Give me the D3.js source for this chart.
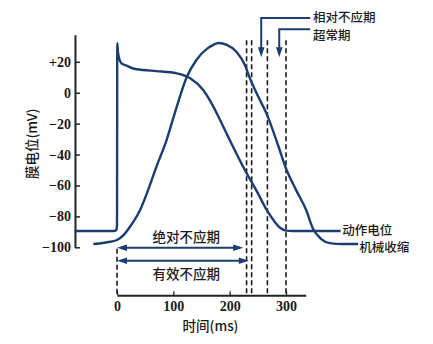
<!DOCTYPE html>
<html>
<head>
<meta charset="utf-8">
<script src="https://cdn.jsdelivr.net/npm/d3@7"></script>
<style>
  html, body { margin: 0; padding: 0; background: #fff; }
  svg { display: block; }
  .cn { font-family: "Noto Sans CJK SC", "Noto Sans", sans-serif; font-weight: 500; fill: #1a1a1a; }
  .num { font-family: "Liberation Serif", "DejaVu Serif", serif; font-weight: bold; fill: #1a1a1a; font-size: 14px; }
</style>
</head>
<body>
<svg id="chart" width="433" height="344"></svg>
<script>
// Ventricular action potential (mV) against time (ms)
const apTime    = [-75, -10, -3, -0.8, 0, 0.5, 1.5, 4, 8, 17, 30, 47, 70, 106, 130, 153, 171, 183, 200, 227, 250, 266, 280, 290, 300, 312, 397];
const apVoltage = [-89.5, -89.5, -89.3, -88.3, -85, 32, 27, 22, 19, 17.5, 15.5, 14.7, 14, 12.5, 9.3, 1.7, -9, -17.7, -30.5, -50, -65, -76, -83.5, -87.5, -89.2, -89.5, -89.5];

// Mechanical contraction curve, drawn against the same axis
const contractionTime  = [-42, -25, -12, 0, 12, 23, 41, 53, 70, 88, 106, 124, 141, 160, 171, 180, 195, 212, 227, 236, 250, 266, 285, 300, 318, 336, 348, 362, 378, 400, 428];
const contractionValue = [-97.9, -97.2, -96.4, -95.3, -92, -86.7, -75.9, -65.1, -47.9, -30.6, -9.1, 10.3, 21.2, 28.5, 31, 32.2, 31, 26.5, 17.9, 9.3, -2, -14, -33, -49, -63, -76, -88, -94.5, -97.3, -97.9, -97.9];

// Refractory period boundaries (ms)
const refractoryMarks = [230, 239, 267, 300];
const absoluteEnd = 224;
const effectiveEnd = 234;
const relativeArrowAt = 256;
const supernormalArrowAt = 288;

// Axis ticks
const yTickValues = [-100, -80, -60, -40, -20, 0, 20];
const yTickLabels = ["\u2212100", "\u221280", "\u221260", "\u221240", "\u221220", "0", "+20"];
const xTickValues = [0, 100, 200, 300];
const xTickLabels = ["0", "100", "200", "300"];

const svg = d3.select("#chart");
const navy = "#1b3d70";

const x = d3.scaleLinear().domain([0, 300]).range([117, 286]);
const y = d3.scaleLinear().domain([-100, 20]).range([247.3, 61.8]);

// Y axis (ticks point inward)
const yAxisScale = y.copy().domain([-100, 37.5]).range([y(-100), y(37.5)]);
const gy = svg.append("g").attr("transform", `translate(${x(-74.6)},0)`)
  .call(d3.axisLeft(yAxisScale)
    .tickValues(yTickValues)
    .tickFormat((d, i) => yTickLabels[i])
    .tickSizeInner(-5).tickSizeOuter(0).tickPadding(4));
gy.select(".domain").attr("stroke", "#222").attr("stroke-width", 2);
gy.selectAll(".tick line").attr("stroke", "#222").attr("stroke-width", 1.5);
gy.selectAll(".tick text").attr("class", "num").attr("font-size", null).attr("font-family", null);

// X axis
const xAxisScale = x.copy().domain([0, 335]).range([x(0), x(335)]);
const gx = svg.append("g").attr("transform", `translate(0,${y(-131)})`)
  .call(d3.axisBottom(xAxisScale)
    .tickValues(xTickValues)
    .tickFormat((d, i) => xTickLabels[i])
    .tickSizeInner(-4).tickSizeOuter(0).tickPadding(6));
gx.select(".domain").attr("stroke", "#222").attr("stroke-width", 2);
gx.selectAll(".tick line").attr("stroke", "#222").attr("stroke-width", 1.3);
gx.selectAll(".tick text").attr("class", "num").attr("font-size", null).attr("font-family", null);

// Dashed boundaries of the refractory periods
svg.append("g").selectAll("line").data(refractoryMarks).join("line")
  .attr("x1", d => x(d)).attr("x2", d => x(d))
  .attr("y1", y(34)).attr("y2", y(-131))
  .attr("stroke", "#1a1a1a").attr("stroke-width", 1.6).attr("stroke-dasharray", "5,3");
svg.append("line")
  .attr("x1", x(0)).attr("x2", x(0))
  .attr("y1", y(-101)).attr("y2", y(-131))
  .attr("stroke", "#1a1a1a").attr("stroke-width", 1.6).attr("stroke-dasharray", "5,3");

// Curves
const line = d3.line().x(d => x(d[0])).y(d => y(d[1])).curve(d3.curveMonotoneX);
svg.append("path")
  .attr("d", line(contractionTime.map((t, i) => [t, contractionValue[i]])))
  .attr("fill", "none").attr("stroke", navy).attr("stroke-width", 2.4);
svg.append("path")
  .attr("d", line(apTime.map((t, i) => [t, apVoltage[i]])))
  .attr("fill", "none").attr("stroke", navy).attr("stroke-width", 2.4);

// Double-headed arrows for absolute / effective refractory periods
function hArrow(t0, t1, v) {
  const x0 = x(t0), x1 = x(t1), yy = y(v), L = 10, W = 3.2;
  svg.append("line").attr("x1", x0 + 4).attr("x2", x1 - 4).attr("y1", yy).attr("y2", yy)
    .attr("stroke", navy).attr("stroke-width", 2);
  svg.append("path").attr("fill", navy)
    .attr("d", `M${x0},${yy}L${x0 + L},${yy - W}L${x0 + L},${yy + W}Z`);
  svg.append("path").attr("fill", navy)
    .attr("d", `M${x1},${yy}L${x1 - L},${yy - W}L${x1 - L},${yy + W}Z`);
}
hArrow(0, absoluteEnd, -100.3);
hArrow(0, effectiveEnd, -108.7);

svg.append("text").attr("class", "cn").attr("font-size", 13.5)
  .attr("x", x(123)).attr("y", y(-93)).attr("text-anchor", "middle").attr("dominant-baseline", "central")
  .text("绝对不应期");
svg.append("text").attr("class", "cn").attr("font-size", 13.5)
  .attr("x", x(123)).attr("y", y(-116.5)).attr("text-anchor", "middle").attr("dominant-baseline", "central")
  .text("有效不应期");

// Pointer arrows for relative refractory and supernormal periods
function elbowArrow(tDown, vLine, tEnd) {
  const xd = x(tDown), yl = y(vLine), xe = x(tEnd), yTip = y(23), L = 10, W = 3.3;
  svg.append("path").attr("fill", "none").attr("stroke", navy).attr("stroke-width", 2)
    .attr("d", `M${xe},${yl}H${xd}V${yTip - L + 1}`);
  svg.append("path").attr("fill", navy)
    .attr("d", `M${xd},${yTip}L${xd - W},${yTip - L}L${xd + W},${yTip - L}Z`);
}
elbowArrow(relativeArrowAt, 48.3, 343);
elbowArrow(supernormalArrowAt, 41, 343);

svg.append("text").attr("class", "cn").attr("font-size", 12.5)
  .attr("x", x(348)).attr("y", y(49)).attr("dominant-baseline", "central").text("相对不应期");
svg.append("text").attr("class", "cn").attr("font-size", 12.5)
  .attr("x", x(348)).attr("y", y(37.5)).attr("dominant-baseline", "central").text("超常期");

// Curve names
svg.append("text").attr("class", "cn").attr("font-size", 12.5)
  .attr("x", x(400)).attr("y", y(-88.5)).attr("dominant-baseline", "central").text("动作电位");
svg.append("text").attr("class", "cn").attr("font-size", 12.5)
  .attr("x", x(430)).attr("y", y(-99.8)).attr("dominant-baseline", "central").text("机械收缩");

// Axis titles
svg.append("text").attr("class", "cn").attr("font-size", 13.5)
  .attr("transform", `translate(31,${y(-33)}) rotate(-90)`)
  .attr("text-anchor", "middle").attr("dominant-baseline", "central").text("膜电位(mV)");
svg.append("text").attr("class", "cn").attr("font-size", 13.5)
  .attr("x", x(166)).attr("y", y(-150.5)).attr("text-anchor", "middle").attr("dominant-baseline", "central")
  .text("时间(ms)");
</script>
</body>
</html>
